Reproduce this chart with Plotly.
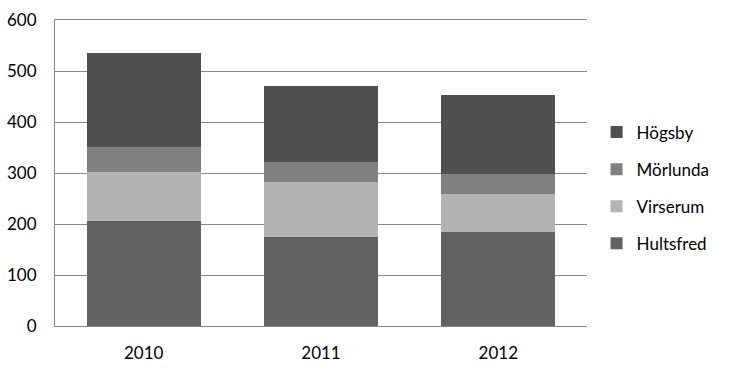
import plotly.graph_objects as go

years = ["2010", "2011", "2012"]
hultsfred = [205, 175, 185]
virserum = [97, 108, 73]
morlunda = [49, 39, 41]
hogsby = [185, 149, 153]

series = [
    ("Hultsfred", hultsfred, "#626262", 4),
    ("Virserum", virserum, "#b3b3b3", 3),
    ("Mörlunda", morlunda, "#808080", 2),
    ("Högsby", hogsby, "#505050", 1),
]

fig = go.Figure()
for name, vals, col, rank in series:
    fig.add_trace(go.Bar(x=years, y=vals, name=name, marker=dict(color=col, line=dict(width=0)),
                         legendgroup=name, legendrank=rank))

font = dict(family="Lato, Open Sans, sans-serif", size=17, color="#000000")
fig.update_layout(
    barmode="stack",
    bargap=0.356,
    width=729, height=368,
    margin=dict(l=55, r=142, t=20, b=42, autoexpand=False),
    plot_bgcolor="white", paper_bgcolor="white",
    font=font,
    showlegend=True,
    legend=dict(x=1.018, y=0.451, xanchor="left", yanchor="middle", traceorder="grouped",
                tracegroupgap=12, font=font, itemwidth=30),
    xaxis=dict(showline=True, mirror=True, linecolor="#878787", linewidth=1, ticks="",
               ticklabelstandoff=12, showgrid=False, automargin=False),
    yaxis=dict(range=[0, 600], dtick=100, showgrid=True, gridcolor="#878787", gridwidth=1,
               showline=True, linecolor="#878787", linewidth=1, ticks="", ticklabelstandoff=14,
               zeroline=False, automargin=False),
)
fig.write_html("out.html", config={"displayModeBar": False},
               post_script="document.body.style.margin='0px';document.body.style.overflow='hidden';")
